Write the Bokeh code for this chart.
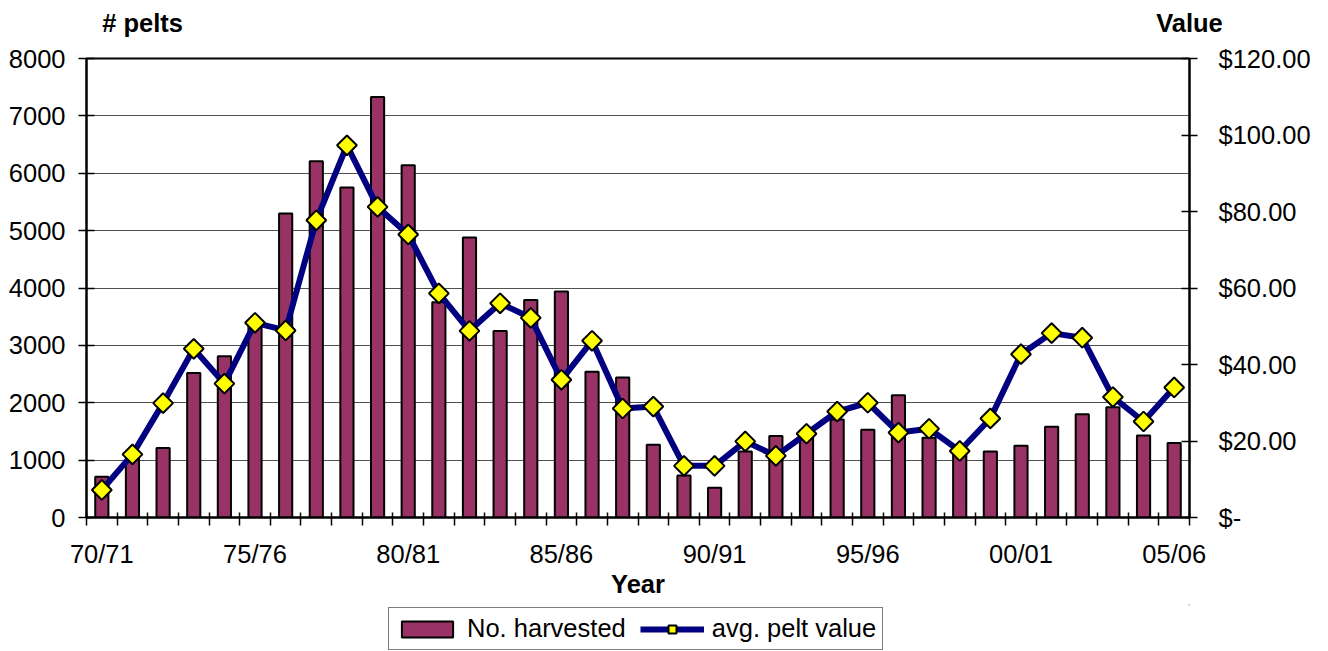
from bokeh.plotting import figure
from bokeh.layouts import column
from bokeh.models import (Range1d, LinearAxis, FixedTicker, Legend, LegendItem,
                          PrintfTickFormatter)
from bokeh.embed import file_html
from bokeh.resources import INLINE
import math

# ---- data ----
seasons = ["70/71", "71/72", "72/73", "73/74", "74/75", "75/76", "76/77", "77/78",
           "78/79", "79/80", "80/81", "81/82", "82/83", "83/84", "84/85", "85/86",
           "86/87", "87/88", "88/89", "89/90", "90/91", "91/92", "92/93", "93/94",
           "94/95", "95/96", "96/97", "97/98", "98/99", "99/00", "00/01", "01/02",
           "02/03", "03/04", "04/05", "05/06"]
harvested = [710, 1080, 1210, 2520, 2810, 3350, 5300, 6210, 5750, 7330, 6140, 3750,
             4880, 3250, 3790, 3940, 2540, 2440, 1270, 730, 520, 1150, 1420, 1450,
             1710, 1530, 2130, 1390, 1160, 1150, 1250, 1580, 1800, 1920, 1430, 1300]
pelt_value = [7.2, 16.5, 29.9, 44.1, 35.0, 50.9, 48.9, 77.7, 97.3, 81.2, 74.0, 58.6,
              48.8, 56.0, 52.2, 36.0, 46.2, 28.5, 29.0, 13.5, 13.5, 19.9, 16.1, 21.9,
              27.7, 30.0, 22.2, 23.2, 17.4, 25.9, 42.7, 48.2, 47.0, 31.5, 25.1, 34.0]
left_ticks = [0, 1000, 2000, 3000, 4000, 5000, 6000, 7000, 8000]
right_ticks = [0, 20, 40, 60, 80, 100, 120]
label_every = 5
left_title = "# pelts"
right_title = "Value"

FONT = "Liberation Sans"
FS = "25.5px"
W = 1320
BAR_FILL = "#993366"
LINE_COL = "#000080"
MARK_FILL = "#FFFF00"

n = len(seasons)
xc = [i + 0.5 for i in range(n)]

# ---------- main chart ----------
p = figure(width=W, height=604, output_backend="svg", toolbar_location=None,
           x_range=Range1d(0, n), y_range=Range1d(0, 8000),
           min_border_left=86, min_border_right=W - 1189, min_border_top=58,
           min_border_bottom=87)
p.extra_y_ranges = {"value": Range1d(0, 120)}
p.outline_line_color = "black"
p.outline_line_width = 2
p.background_fill_color = "white"
p.border_fill_color = "white"

xa = p.xaxis[0]
major = [xc[i] for i in range(0, n, label_every)]
xa.ticker = FixedTicker(ticks=major, minor_ticks=list(range(n + 1)))
xa.major_label_overrides = {xc[i]: seasons[i] for i in range(0, n, label_every)}
xa.major_tick_line_color = None
xa.major_tick_out = 8
xa.major_tick_in = 0
xa.minor_tick_line_color = "black"
xa.minor_tick_line_width = 1.5
xa.minor_tick_in = 5
xa.minor_tick_out = 8
xa.major_label_standoff = 14
xa.major_label_text_font = FONT
xa.major_label_text_font_size = FS
xa.major_label_text_color = "black"
xa.axis_line_color = "black"
xa.axis_line_width = 2
xa.axis_label = "Year"
xa.axis_label_text_font = FONT
xa.axis_label_text_font_size = FS
xa.axis_label_text_font_style = "bold"
xa.axis_label_text_color = "black"
xa.axis_label_standoff = -1

# axis titles placed above the plot area (as labels of a bare top axis)
ta = LinearAxis(ticker=FixedTicker(ticks=[1.83, n]))
ta.major_label_overrides = {1.83: left_title, n: right_title}
ta.axis_line_color = None
ta.major_tick_line_color = None
ta.minor_tick_line_color = None
ta.major_tick_in = 0
ta.major_tick_out = 0
ta.major_label_standoff = 22
ta.major_label_text_font = FONT
ta.major_label_text_font_size = FS
ta.major_label_text_font_style = "bold"
ta.major_label_text_color = "black"
p.add_layout(ta, "above")

ya = p.yaxis[0]
ya.ticker = FixedTicker(ticks=left_ticks)
ya.minor_tick_line_color = None
ya.major_tick_in = 8
ya.major_tick_out = 8
ya.major_tick_line_width = 1.5
ya.major_label_standoff = 13
ya.major_label_text_font = FONT
ya.major_label_text_font_size = FS
ya.major_label_text_color = "black"
ya.axis_line_color = "black"
ya.axis_line_width = 2

ra = LinearAxis(y_range_name="value", ticker=FixedTicker(ticks=right_ticks),
                formatter=PrintfTickFormatter(format="$%.2f"))
ra.major_label_overrides = {0: "$-"}
ra.minor_tick_line_color = None
ra.major_tick_in = 8
ra.major_tick_out = 8
ra.major_tick_line_width = 1.5
ra.major_label_standoff = 21
ra.major_label_text_font = FONT
ra.major_label_text_font_size = FS
ra.major_label_text_color = "black"
ra.axis_line_color = "black"
ra.axis_line_width = 2
p.add_layout(ra, "right")

p.xgrid.grid_line_color = None
p.ygrid.grid_line_color = "#505050"
p.ygrid.grid_line_width = 1
p.ygrid.ticker = FixedTicker(ticks=left_ticks)

p.vbar(x=xc, top=harvested, width=0.43, bottom=0,
       fill_color=BAR_FILL, line_color="black", line_width=2)
p.line(x=xc, y=pelt_value, y_range_name="value",
       line_color=LINE_COL, line_width=6, line_join="round")
p.scatter(x=xc, y=pelt_value, y_range_name="value", marker="square",
          angle=math.pi / 4, size=14, fill_color=MARK_FILL,
          line_color="black", line_width=2)

# ---------- legend strip ----------
# proxy renderers use the real data but lie far outside this strip's visible
# range, so only their legend swatches are seen
lg = figure(width=W, height=46, output_backend="svg", toolbar_location=None,
            x_range=Range1d(-1000, -999), y_range=Range1d(-100000, -99999),
            x_axis_location=None, y_axis_location=None,
            min_border=0, outline_line_color=None)
lg.xgrid.visible = False
lg.ygrid.visible = False
lb = lg.vbar(x=xc[:1], top=harvested[:1], width=0.43, fill_color=BAR_FILL,
             line_color="black", line_width=2)
ll = lg.line(x=xc[:2], y=pelt_value[:2], line_color=LINE_COL, line_width=6)
lm = lg.scatter(x=xc[:1], y=pelt_value[:1], marker="square", angle=math.pi / 4,
                size=14, fill_color=MARK_FILL, line_color="black", line_width=2)
legend = Legend(items=[LegendItem(label="No. harvested", renderers=[lb]),
                       LegendItem(label="avg. pelt value", renderers=[ll, lm])],
                orientation="horizontal", location=(302, 0))
legend.label_text_font = FONT
legend.label_text_font_size = FS
legend.label_text_color = "black"
legend.border_line_color = "black"
legend.border_line_width = 1
legend.glyph_width = 64
legend.glyph_height = 20
legend.label_standoff = 8
legend.spacing = 14
legend.padding = 6
legend.margin = 0
legend.background_fill_alpha = 1
lg.add_layout(legend)

layout = column(p, lg, spacing=0)
open("out.html", "w").write(file_html(layout, INLINE))
